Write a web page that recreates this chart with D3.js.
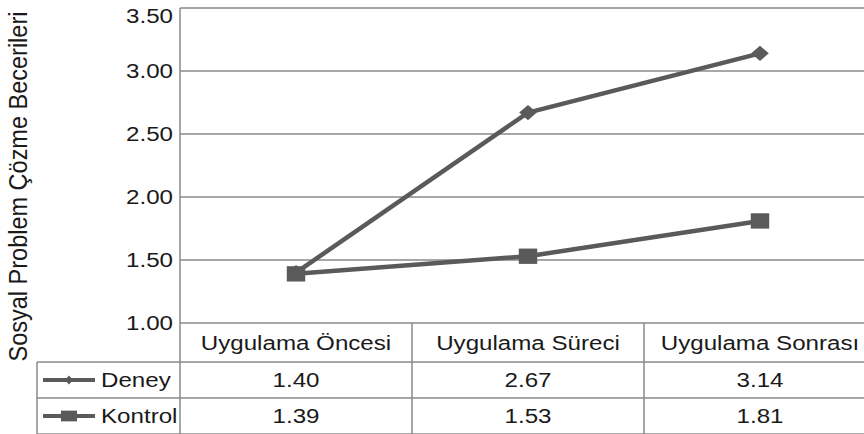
<!DOCTYPE html>
<html><head><meta charset="utf-8">
<script src="https://cdn.jsdelivr.net/npm/d3@7"></script>
<style>
html,body{margin:0;padding:0;background:#fff;}
svg{display:block;}
text{font-family:"Liberation Sans",Arial,sans-serif;fill:#1a1a1a;}
</style></head>
<body>
<svg id="c" width="864" height="434"></svg>
<script>
const categories = ["Uygulama Öncesi", "Uygulama Süreci", "Uygulama Sonrası"];
const deney = [1.40, 2.67, 3.14];
const kontrol = [1.39, 1.53, 1.81];
const deneyLabels = ["1.40", "2.67", "3.14"];
const kontrolLabels = ["1.39", "1.53", "1.81"];
const yTicks = [1.00, 1.50, 2.00, 2.50, 3.00, 3.50];
const yTitle = "Sosyal Problem Çözme Becerileri";
const seriesNames = ["Deney", "Kontrol"];

(function () {
const svg = d3.select("#c");
const pLeft = 180, pRight = 876, pTop = 8, pBottom = 323;
const rowH = 36;
const headerBottom = 362;
const legendLeft = 37;
const lineColor = "#5a5a5a";
const gridColor = "#8a8a8a";
const sx = 1.15, fs = 21;

const x = d3.scaleBand().domain(categories).range([pLeft, pRight]);
const y = d3.scaleLinear().domain([1, 3.5]).range([pBottom, pTop]);

function txt(g, s, px, py, anchor) {
  g.append("text")
    .attr("transform", `translate(${px},${py}) scale(${sx},1)`)
    .attr("text-anchor", anchor)
    .attr("dominant-baseline", "central")
    .style("font-size", fs + "px")
    .text(s);
}

// gridlines
const grid = svg.append("g");
grid.selectAll("line").data(yTicks).join("line")
  .attr("x1", pLeft).attr("x2", pRight)
  .attr("y1", d => y(d)).attr("y2", d => y(d))
  .attr("stroke", gridColor).attr("stroke-width", 1.5);

// y axis line
svg.append("line").attr("x1", pLeft).attr("x2", pLeft).attr("y1", pTop).attr("y2", 434)
  .attr("stroke", gridColor).attr("stroke-width", 1.5);

// tick labels
const tl = svg.append("g");
yTicks.forEach(v => txt(tl, d3.format(".2f")(v), pLeft - 7, Math.max(y(v), pTop + 8), "end"));

// y title
svg.append("text")
  .attr("transform", `translate(18,${(pTop + 365) / 2}) rotate(-90) scale(1,1.12)`)
  .attr("text-anchor", "middle").attr("dominant-baseline", "central")
  .style("font-size", "23.5px")
  .text(yTitle);

// table
const tb = svg.append("g");
const rowYs = [headerBottom, headerBottom + rowH, headerBottom + 2 * rowH];
rowYs.forEach(ry => tb.append("line").attr("x1", legendLeft).attr("x2", pRight)
  .attr("y1", ry).attr("y2", ry).attr("stroke", gridColor).attr("stroke-width", 1.5));
tb.append("line").attr("x1", legendLeft).attr("x2", legendLeft).attr("y1", headerBottom).attr("y2", 434)
  .attr("stroke", gridColor).attr("stroke-width", 1.5);
categories.slice(1).forEach(c => tb.append("line").attr("x1", x(c)).attr("x2", x(c))
  .attr("y1", pBottom).attr("y2", 434).attr("stroke", gridColor).attr("stroke-width", 1.5));
categories.forEach((c, i) => {
  const cx = x(c) + x.bandwidth() / 2;
  txt(tb, c, cx, (pBottom + headerBottom) / 2 + 1, "middle");
  txt(tb, deneyLabels[i], cx, headerBottom + rowH / 2, "middle");
  txt(tb, kontrolLabels[i], cx, headerBottom + rowH * 1.5, "middle");
});

// series
const line = d3.line().x((d, i) => x(categories[i]) + x.bandwidth() / 2).y(d => y(d));
const diamond = d3.symbol().type(d3.symbolDiamond2).size(150);
const square = d3.symbol().type(d3.symbolSquare2).size(300);

function drawSeries(vals, sym, sxScale) {
  svg.append("path").datum(vals).attr("d", line).attr("fill", "none")
    .attr("stroke", lineColor).attr("stroke-width", 4.5).attr("stroke-linejoin", "round");
  svg.append("g").selectAll("path").data(vals).join("path")
    .attr("d", sym)
    .attr("transform", (d, i) => `translate(${x(categories[i]) + x.bandwidth() / 2},${y(d)}) scale(${sxScale},1)`)
    .attr("fill", lineColor);
}
drawSeries(kontrol, square, 1.2);
drawSeries(deney, diamond, 1.15);

// legend
const lg = svg.append("g");
[[seriesNames[0], diamond, 0.55, 0.6], [seriesNames[1], square, 1.05, 0.7]].forEach(([name, sym, kx, ky], i) => {
  const cy = headerBottom + rowH * (i + 0.5);
  lg.append("line").attr("x1", 43).attr("x2", 95).attr("y1", cy).attr("y2", cy)
    .attr("stroke", lineColor).attr("stroke-width", 4);
  lg.append("path").attr("d", sym).attr("transform", `translate(69,${cy}) scale(${kx},${ky})`)
    .attr("fill", lineColor);
  txt(lg, name, 101, cy, "start");
});
})();
</script>
</body></html>
